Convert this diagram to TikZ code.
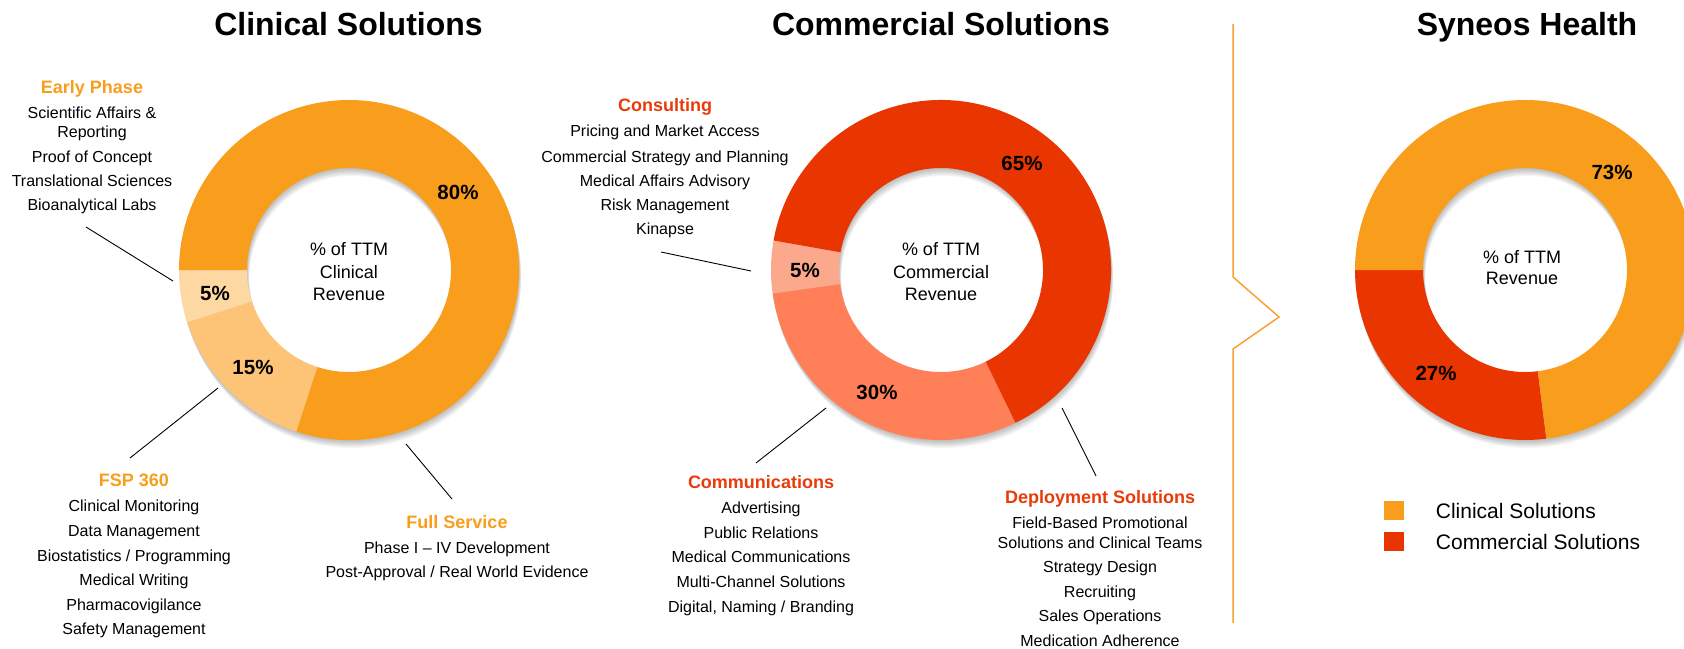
\documentclass[tikz,border=0pt]{standalone}
\usepackage{fontspec}
\setmainfont{Liberation Sans}
\usetikzlibrary{calc}
\definecolor{clinA}{RGB}{249,158,28}
\definecolor{clinB}{RGB}{253,196,120}
\definecolor{clinC}{RGB}{253,216,163}
\definecolor{commA}{RGB}{233,53,0}
\definecolor{commB}{RGB}{255,127,89}
\definecolor{commC}{RGB}{252,168,141}
\definecolor{headO}{RGB}{249,158,28}
\definecolor{headR}{RGB}{233,58,10}
\definecolor{divcol}{RGB}{247,162,50}
\newcommand\ringseg[4]{\fill[#4] ($(#1)+(#2:170pt)$) arc[start angle=#2,end angle=#3,radius=170pt] -- ($(#1)+(#3:102pt)$) arc[start angle=#3,end angle=#2,radius=102pt] -- cycle;}
\newcommand\ringshadow[1]{\foreach \d in {1,...,8}{\fill[black,opacity=0.035,even odd rule] ($(#1)+(0.3*\d,-\d)$) circle[radius=170pt] ($(#1)+(0.3*\d,-\d)$) circle[radius=102pt];}}
\begin{document}
\begin{tikzpicture}[x=1pt,y=1pt,
  title/.style={font=\fontsize{32}{36}\selectfont\bfseries, anchor=base, inner sep=0pt},
  body/.style={font=\fontsize{16}{19}\selectfont, anchor=base, inner sep=0pt},
  headOr/.style={font=\fontsize{18}{21}\selectfont\bfseries, text=headO, anchor=base, inner sep=0pt},
  headRd/.style={font=\fontsize{18}{21}\selectfont\bfseries, text=headR, anchor=base, inner sep=0pt},
  pct/.style={font=\fontsize{20.5}{24}\selectfont\bfseries, inner sep=0pt},
  ctr/.style={font=\fontsize{18}{21}\selectfont, anchor=base, inner sep=0pt},
  leg/.style={font=\fontsize{21}{24}\selectfont, anchor=base west, inner sep=0pt},
  legsq/.style={minimum width=20pt, minimum height=19.5pt, inner sep=0pt, draw=none},
  leader/.style={draw=black, line width=0.9pt},
  divider/.style={draw=divcol, line width=1.5pt}]
\useasboundingbox (0,0) rectangle (1684,-648);
\clip (0,0) rectangle (1684,-648);

% centres
\coordinate (cC) at (349,-270);
\coordinate (cM) at (941,-270);
\coordinate (cS) at (1525,-270);

% titles
\node[title] (tC) at (348.5,-35) {Clinical Solutions};
\node[title] (tM) at (941,-35) {Commercial Solutions};
\node[title] (tS) at (1527,-35) {Syneos Health};

% clinical donut
\ringshadow{cC}
\ringseg{cC}{180}{198}{clinC}
\ringseg{cC}{198}{252}{clinB}
\ringseg{cC}{252}{540}{clinA}
\node[pct] (p80) at (458,-192) {80\%};
\node[pct] (p15) at (253,-367) {15\%};
\node[pct] (p5a) at (215,-293) {5\%};
\node[ctr] (cc1) at (349,-255) {\% of TTM};
\node[ctr] (cc2) at (349,-278) {Clinical};
\node[ctr] (cc3) at (349,-300) {Revenue};

% commercial donut
\ringshadow{cM}
\ringseg{cM}{170}{188}{commC}
\ringseg{cM}{188}{296}{commB}
\ringseg{cM}{296}{530}{commA}
\node[pct] (p65) at (1022,-163) {65\%};
\node[pct] (p5b) at (805,-270) {5\%};
\node[pct] (p30) at (877,-392) {30\%};
\node[ctr] (cm1) at (941,-255) {\% of TTM};
\node[ctr] (cm2) at (941,-278) {Commercial};
\node[ctr] (cm3) at (941,-300) {Revenue};

% syneos donut
\ringshadow{cS}
\ringseg{cS}{180}{277.2}{commA}
\ringseg{cS}{277.2}{540}{clinA}
\node[pct] (p73) at (1612,-172) {73\%};
\node[pct] (p27) at (1436,-373) {27\%};
\node[ctr] (cs1) at (1522,-263.5) {\% of TTM};
\node[ctr] (cs2) at (1522,-284.5) {Revenue};

% divider
\draw[divider] (1233,-24) -- (1233,-277) -- (1279,-317) -- (1233,-349) -- (1233,-623);

% legend
\node[legsq, fill=clinA] (lg1) at (1394,-510.5) {};
\node[legsq, fill=commA] (lg2) at (1394,-541.7) {};
\node[leg] (lt1) at (1435.7,-518.7) {Clinical Solutions};
\node[leg] (lt2) at (1435.7,-549.7) {Commercial Solutions};

% Early Phase
\node[headOr] (epH) at (92,-93.2) {Early Phase};
\node[body] (ep1) at (92,-118.5) {Scientific Affairs \&};
\node[body] (ep2) at (92,-137.5) {Reporting};
\node[body] (ep3) at (92,-162.5) {Proof of Concept};
\node[body] (ep4) at (92,-186.5) {Translational Sciences};
\node[body] (ep5) at (92,-210.5) {Bioanalytical Labs};

% FSP 360
\node[headOr] (fsH) at (134,-486.5) {FSP 360};
\node[body] (fs1) at (134,-511.5) {Clinical Monitoring};
\node[body] (fs2) at (134,-536.5) {Data Management};
\node[body] (fs3) at (134,-561) {Biostatistics / Programming};
\node[body] (fs4) at (134,-585) {Medical Writing};
\node[body] (fs5) at (134,-610) {Pharmacovigilance};
\node[body] (fs6) at (134,-634) {Safety Management};

% Full Service
\node[headOr] (fvH) at (457,-528) {Full Service};
\node[body] (fv1) at (457,-553) {Phase I – IV Development};
\node[body] (fv2) at (457,-577) {Post-Approval / Real World Evidence};

% Consulting
\node[headRd] (coH) at (665,-111.5) {Consulting};
\node[body] (co1) at (665,-136.5) {Pricing and Market Access};
\node[body] (co2) at (665,-162) {Commercial Strategy and Planning};
\node[body] (co3) at (665,-186) {Medical Affairs Advisory};
\node[body] (co4) at (665,-210) {Risk Management};
\node[body] (co5) at (665,-234) {Kinapse};

% Communications
\node[headRd] (cuH) at (761,-488) {Communications};
\node[body] (cu1) at (761,-513.5) {Advertising};
\node[body] (cu2) at (761,-538.5) {Public Relations};
\node[body] (cu3) at (761,-562.5) {Medical Communications};
\node[body] (cu4) at (761,-587.5) {Multi-Channel Solutions};
\node[body] (cu5) at (761,-612) {Digital, Naming / Branding};

% Deployment Solutions
\node[headRd] (dpH) at (1100,-503) {Deployment Solutions};
\node[body] (dp1) at (1100,-528.5) {Field-Based Promotional};
\node[body] (dp2) at (1100,-548.5) {Solutions and Clinical Teams};
\node[body] (dp3) at (1100,-572.5) {Strategy Design};
\node[body] (dp4) at (1100,-597.5) {Recruiting};
\node[body] (dp5) at (1100,-621.5) {Sales Operations};
\node[body] (dp6) at (1100,-646) {Medication Adherence};

% leader lines
\coordinate (l1a) at (86,-227);   \coordinate (l1b) at (173,-281);
\coordinate (l2a) at (218,-388);  \coordinate (l2b) at (130,-458);
\coordinate (l3a) at (406,-444);  \coordinate (l3b) at (452,-499);
\coordinate (l4a) at (661,-252);  \coordinate (l4b) at (751,-271);
\coordinate (l5a) at (826,-408);  \coordinate (l5b) at (756,-463);
\coordinate (l6a) at (1062,-408); \coordinate (l6b) at (1096,-476);
\draw[leader] (l1a) -- (l1b);
\draw[leader] (l2a) -- (l2b);
\draw[leader] (l3a) -- (l3b);
\draw[leader] (l4a) -- (l4b);
\draw[leader] (l5a) -- (l5b);
\draw[leader] (l6a) -- (l6b);
\end{tikzpicture}
\end{document}
